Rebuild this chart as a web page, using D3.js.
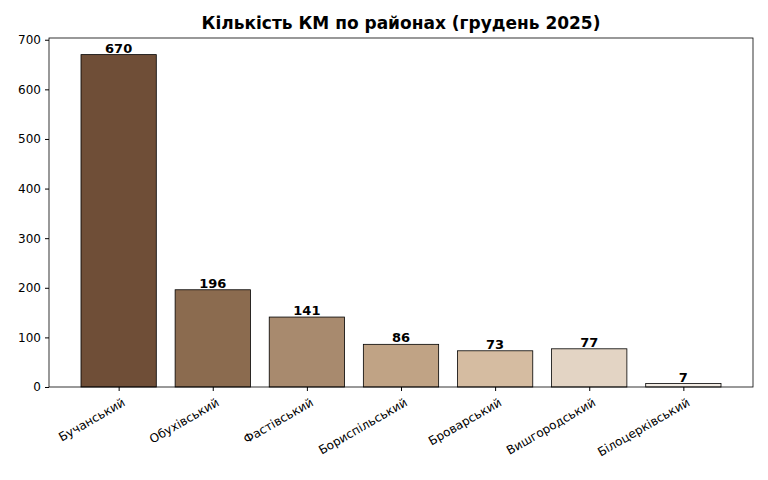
<!DOCTYPE html>
<html><head><meta charset="utf-8">
<script src="https://cdn.jsdelivr.net/npm/d3@7"></script>
<style>body{margin:0;background:#fff}text{font-family:"DejaVu Sans",sans-serif}</style>
</head><body><svg id="c" width="768" height="480"></svg>
<script>
const districts = ["Бучанський","Обухівський","Фастівський","Бориспільський","Броварський","Вишгородський","Білоцерківський"];
const counts = [670,196,141,86,73,77,7];
const colors = ["#6f4e37","#8b6b4f","#a88a6e","#c0a385","#d5bca1","#e3d4c4","#f2ebe3"];
const yTicks = [0,100,200,300,400,500,600,700];

const svg = d3.select("#c");
const L = 49, R = 753, T = 38, B = 387;
const x = d3.scaleLinear().domain([-0.74, districts.length - 0.26]).range([L, R]);
const y = d3.scaleLinear().domain([0, d3.max(counts) * 1.05]).range([B, T]);
const bw = x(0.8) - x(0);

svg.append("text").attr("x", (L + R) / 2).attr("y", 29).attr("text-anchor", "middle")
  .attr("font-size", 17).attr("font-weight", "bold").text("Кількість КМ по районах (грудень 2025)");

svg.selectAll("rect.bar").data(counts).join("rect").attr("class", "bar")
  .attr("x", (d, i) => x(i) - bw / 2).attr("width", bw)
  .attr("y", d => y(d)).attr("height", d => B - y(d))
  .attr("fill", (d, i) => colors[i]).attr("stroke", "#000").attr("stroke-width", 0.8);

svg.selectAll("text.val").data(counts).join("text").attr("class", "val")
  .attr("x", (d, i) => x(i)).attr("y", d => y(d) - 2).attr("text-anchor", "middle")
  .attr("font-size", 13).attr("font-weight", "bold").text(d => d);

const ya = svg.append("g").attr("transform", `translate(${L},0)`)
  .call(d3.axisLeft(y).tickValues(yTicks).tickSize(4).tickPadding(4));
ya.selectAll("text").attr("font-size", 12).attr("fill", "#000");

const xa = svg.append("g").attr("transform", `translate(0,${B})`)
  .call(d3.axisBottom(x).tickValues(d3.range(districts.length)).tickFormat(i => districts[i]).tickSize(4));
xa.selectAll("text").attr("font-size", 12).attr("fill", "#000")
  .attr("text-anchor", "end").attr("transform", "translate(0,6) rotate(-30)").attr("dy", "0.8em").attr("y", 4);
[ya, xa].forEach(a => a.select(".domain").remove());

svg.append("rect").attr("x", L).attr("y", T).attr("width", R - L).attr("height", B - T)
  .attr("fill", "none").attr("stroke", "#000").attr("stroke-width", 0.8);
</script></body></html>
